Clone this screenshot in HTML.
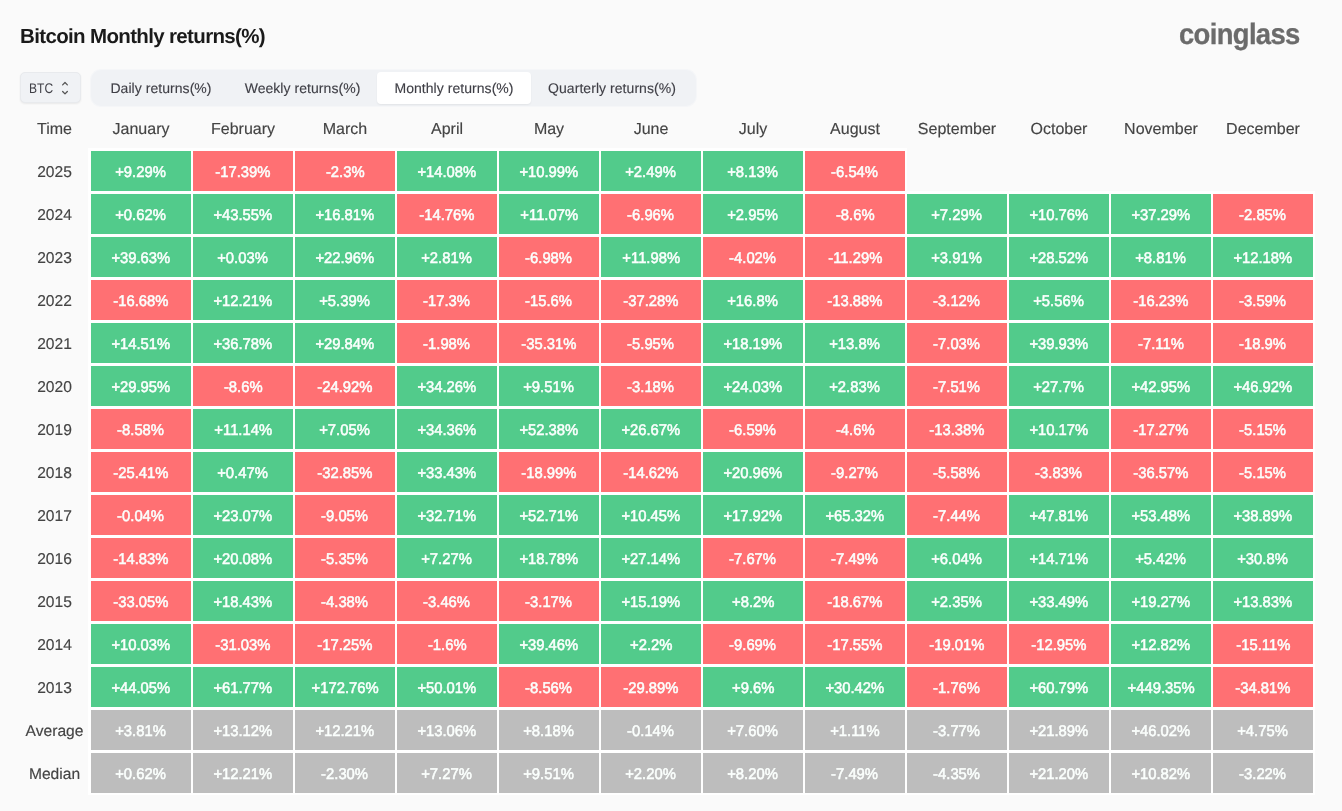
<!DOCTYPE html>
<html lang="en">
<head>
<meta charset="utf-8">
<title>Bitcoin Monthly returns(%)</title>
<style>
*{box-sizing:border-box;margin:0;padding:0}
html,body{width:1342px;height:811px;overflow:hidden;background:#fafafa}
body{position:relative;font-family:"Liberation Sans",sans-serif;color:#444444;text-rendering:geometricPrecision}
.title{position:absolute;margin:0;left:20px;top:25px;font-size:20.5px;line-height:24px;font-weight:bold;color:#1a1a1a;letter-spacing:-0.65px;white-space:nowrap}
.logo{position:absolute;left:1179px;top:17px;font-size:29.5px;line-height:36px;font-weight:bold;color:#6b6b6b;-webkit-text-stroke:0.3px #6b6b6b;white-space:nowrap;transform-origin:0 50%;transform:scaleX(0.93);letter-spacing:-0.7px}
.sel{position:absolute;left:20px;top:72px;width:61px;height:31px;border-radius:5px;background:#f0f2f5;border:1px solid #e8eaed;box-shadow:0 1px 2px rgba(0,0,0,.07)}
.sel span{position:absolute;left:8px;top:0;line-height:30px;font-size:14px;color:#3f3f46;transform-origin:0 50%;transform:scaleX(0.86)}
.sel svg{position:absolute;left:37px;top:6px}
.tabs{position:absolute;left:91px;top:70px;width:605px;height:36px;border-radius:10px;background:#f0f2f5;box-shadow:0 0 0 1px #f5f6f8}
.tab{position:absolute;top:2px;height:32px;line-height:33px;font-size:14px;text-align:center;color:#3f3f46;-webkit-text-stroke:0.12px #3f3f46;border-radius:4px;letter-spacing:0.05px;white-space:nowrap}
.tab.on{background:#fff;box-shadow:0 1px 2px rgba(0,0,0,.06)}
.h{position:absolute;top:118px;height:24px;line-height:24px;font-size:16px;letter-spacing:0px;text-align:center;color:#444444;-webkit-text-stroke:0.15px #444444;white-space:nowrap}
.y{position:absolute;left:4.5px;width:100px;height:40px;line-height:44px;font-size:15.6px;text-align:center;color:#444444;-webkit-text-stroke:0.15px #444444;white-space:nowrap}
.w{position:absolute;background:#fff}
.c{position:absolute;width:100px;height:40px;line-height:43px;text-align:center;color:#fbfffd;font-size:15.5px;font-weight:normal;-webkit-text-stroke:0.55px #fbfffd;white-space:nowrap}
.c span{display:inline-block;transform:translate(0px,0px) scaleX(0.955)}
.g{background:#52cb8b}
.r{background:#ff7073}
.n{background:#bdbdbd}
</style>
</head>
<body>
<h1 class="title">Bitcoin Monthly returns(%)</h1>
<div class="logo">coinglass</div>
<div class="sel" role="button" aria-haspopup="listbox"><span>BTC</span><svg width="16" height="18" viewBox="0 0 16 18" fill="none" stroke="#555" stroke-width="1.3" stroke-linecap="round" stroke-linejoin="round"><path d="M4.65 5.85 L7 3.45 L9.35 5.85"/><path d="M4.65 12.45 L7 14.85 L9.35 12.45"/></svg></div>
<div class="tabs" role="tablist">
<div class="tab" role="tab" aria-selected="false" style="left:3px;width:134px">Daily returns(%)</div>
<div class="tab" role="tab" aria-selected="false" style="left:137px;width:149px">Weekly returns(%)</div>
<div class="tab on" role="tab" aria-selected="true" style="left:286px;width:154px">Monthly returns(%)</div>
<div class="tab" role="tab" aria-selected="false" style="left:440px;width:162px">Quarterly returns(%)</div>
</div>
<div role="table" aria-label="Bitcoin Monthly returns(%)">
<div class="w" style="left:88px;top:148px;width:819px;height:46px"></div>
<div class="w" style="left:88px;top:191px;width:1227px;height:604px"></div>
<div role="row">
<div class="h" role="columnheader" style="left:4.5px;width:100px">Time</div>
<div class="h" role="columnheader" style="left:81px;width:120px">January</div>
<div class="h" role="columnheader" style="left:183px;width:120px">February</div>
<div class="h" role="columnheader" style="left:285px;width:120px">March</div>
<div class="h" role="columnheader" style="left:387px;width:120px">April</div>
<div class="h" role="columnheader" style="left:489px;width:120px">May</div>
<div class="h" role="columnheader" style="left:591px;width:120px">June</div>
<div class="h" role="columnheader" style="left:693px;width:120px">July</div>
<div class="h" role="columnheader" style="left:795px;width:120px">August</div>
<div class="h" role="columnheader" style="left:897px;width:120px">September</div>
<div class="h" role="columnheader" style="left:999px;width:120px">October</div>
<div class="h" role="columnheader" style="left:1101px;width:120px">November</div>
<div class="h" role="columnheader" style="left:1203px;width:120px">December</div>
</div>
<div role="row">
<div class="y" role="rowheader" style="top:151px">2025</div>
<div class="c g" role="cell" style="left:91px;top:151px"><span>+9.29%</span></div>
<div class="c r" role="cell" style="left:193px;top:151px"><span>-17.39%</span></div>
<div class="c r" role="cell" style="left:295px;top:151px"><span>-2.3%</span></div>
<div class="c g" role="cell" style="left:397px;top:151px"><span>+14.08%</span></div>
<div class="c g" role="cell" style="left:499px;top:151px"><span>+10.99%</span></div>
<div class="c g" role="cell" style="left:601px;top:151px"><span>+2.49%</span></div>
<div class="c g" role="cell" style="left:703px;top:151px"><span>+8.13%</span></div>
<div class="c r" role="cell" style="left:805px;top:151px"><span>-6.54%</span></div>
</div>
<div role="row">
<div class="y" role="rowheader" style="top:194px">2024</div>
<div class="c g" role="cell" style="left:91px;top:194px"><span>+0.62%</span></div>
<div class="c g" role="cell" style="left:193px;top:194px"><span>+43.55%</span></div>
<div class="c g" role="cell" style="left:295px;top:194px"><span>+16.81%</span></div>
<div class="c r" role="cell" style="left:397px;top:194px"><span>-14.76%</span></div>
<div class="c g" role="cell" style="left:499px;top:194px"><span>+11.07%</span></div>
<div class="c r" role="cell" style="left:601px;top:194px"><span>-6.96%</span></div>
<div class="c g" role="cell" style="left:703px;top:194px"><span>+2.95%</span></div>
<div class="c r" role="cell" style="left:805px;top:194px"><span>-8.6%</span></div>
<div class="c g" role="cell" style="left:907px;top:194px"><span>+7.29%</span></div>
<div class="c g" role="cell" style="left:1009px;top:194px"><span>+10.76%</span></div>
<div class="c g" role="cell" style="left:1111px;top:194px"><span>+37.29%</span></div>
<div class="c r" role="cell" style="left:1213px;top:194px"><span>-2.85%</span></div>
</div>
<div role="row">
<div class="y" role="rowheader" style="top:237px">2023</div>
<div class="c g" role="cell" style="left:91px;top:237px"><span>+39.63%</span></div>
<div class="c g" role="cell" style="left:193px;top:237px"><span>+0.03%</span></div>
<div class="c g" role="cell" style="left:295px;top:237px"><span>+22.96%</span></div>
<div class="c g" role="cell" style="left:397px;top:237px"><span>+2.81%</span></div>
<div class="c r" role="cell" style="left:499px;top:237px"><span>-6.98%</span></div>
<div class="c g" role="cell" style="left:601px;top:237px"><span>+11.98%</span></div>
<div class="c r" role="cell" style="left:703px;top:237px"><span>-4.02%</span></div>
<div class="c r" role="cell" style="left:805px;top:237px"><span>-11.29%</span></div>
<div class="c g" role="cell" style="left:907px;top:237px"><span>+3.91%</span></div>
<div class="c g" role="cell" style="left:1009px;top:237px"><span>+28.52%</span></div>
<div class="c g" role="cell" style="left:1111px;top:237px"><span>+8.81%</span></div>
<div class="c g" role="cell" style="left:1213px;top:237px"><span>+12.18%</span></div>
</div>
<div role="row">
<div class="y" role="rowheader" style="top:280px">2022</div>
<div class="c r" role="cell" style="left:91px;top:280px"><span>-16.68%</span></div>
<div class="c g" role="cell" style="left:193px;top:280px"><span>+12.21%</span></div>
<div class="c g" role="cell" style="left:295px;top:280px"><span>+5.39%</span></div>
<div class="c r" role="cell" style="left:397px;top:280px"><span>-17.3%</span></div>
<div class="c r" role="cell" style="left:499px;top:280px"><span>-15.6%</span></div>
<div class="c r" role="cell" style="left:601px;top:280px"><span>-37.28%</span></div>
<div class="c g" role="cell" style="left:703px;top:280px"><span>+16.8%</span></div>
<div class="c r" role="cell" style="left:805px;top:280px"><span>-13.88%</span></div>
<div class="c r" role="cell" style="left:907px;top:280px"><span>-3.12%</span></div>
<div class="c g" role="cell" style="left:1009px;top:280px"><span>+5.56%</span></div>
<div class="c r" role="cell" style="left:1111px;top:280px"><span>-16.23%</span></div>
<div class="c r" role="cell" style="left:1213px;top:280px"><span>-3.59%</span></div>
</div>
<div role="row">
<div class="y" role="rowheader" style="top:323px">2021</div>
<div class="c g" role="cell" style="left:91px;top:323px"><span>+14.51%</span></div>
<div class="c g" role="cell" style="left:193px;top:323px"><span>+36.78%</span></div>
<div class="c g" role="cell" style="left:295px;top:323px"><span>+29.84%</span></div>
<div class="c r" role="cell" style="left:397px;top:323px"><span>-1.98%</span></div>
<div class="c r" role="cell" style="left:499px;top:323px"><span>-35.31%</span></div>
<div class="c r" role="cell" style="left:601px;top:323px"><span>-5.95%</span></div>
<div class="c g" role="cell" style="left:703px;top:323px"><span>+18.19%</span></div>
<div class="c g" role="cell" style="left:805px;top:323px"><span>+13.8%</span></div>
<div class="c r" role="cell" style="left:907px;top:323px"><span>-7.03%</span></div>
<div class="c g" role="cell" style="left:1009px;top:323px"><span>+39.93%</span></div>
<div class="c r" role="cell" style="left:1111px;top:323px"><span>-7.11%</span></div>
<div class="c r" role="cell" style="left:1213px;top:323px"><span>-18.9%</span></div>
</div>
<div role="row">
<div class="y" role="rowheader" style="top:366px">2020</div>
<div class="c g" role="cell" style="left:91px;top:366px"><span>+29.95%</span></div>
<div class="c r" role="cell" style="left:193px;top:366px"><span>-8.6%</span></div>
<div class="c r" role="cell" style="left:295px;top:366px"><span>-24.92%</span></div>
<div class="c g" role="cell" style="left:397px;top:366px"><span>+34.26%</span></div>
<div class="c g" role="cell" style="left:499px;top:366px"><span>+9.51%</span></div>
<div class="c r" role="cell" style="left:601px;top:366px"><span>-3.18%</span></div>
<div class="c g" role="cell" style="left:703px;top:366px"><span>+24.03%</span></div>
<div class="c g" role="cell" style="left:805px;top:366px"><span>+2.83%</span></div>
<div class="c r" role="cell" style="left:907px;top:366px"><span>-7.51%</span></div>
<div class="c g" role="cell" style="left:1009px;top:366px"><span>+27.7%</span></div>
<div class="c g" role="cell" style="left:1111px;top:366px"><span>+42.95%</span></div>
<div class="c g" role="cell" style="left:1213px;top:366px"><span>+46.92%</span></div>
</div>
<div role="row">
<div class="y" role="rowheader" style="top:409px">2019</div>
<div class="c r" role="cell" style="left:91px;top:409px"><span>-8.58%</span></div>
<div class="c g" role="cell" style="left:193px;top:409px"><span>+11.14%</span></div>
<div class="c g" role="cell" style="left:295px;top:409px"><span>+7.05%</span></div>
<div class="c g" role="cell" style="left:397px;top:409px"><span>+34.36%</span></div>
<div class="c g" role="cell" style="left:499px;top:409px"><span>+52.38%</span></div>
<div class="c g" role="cell" style="left:601px;top:409px"><span>+26.67%</span></div>
<div class="c r" role="cell" style="left:703px;top:409px"><span>-6.59%</span></div>
<div class="c r" role="cell" style="left:805px;top:409px"><span>-4.6%</span></div>
<div class="c r" role="cell" style="left:907px;top:409px"><span>-13.38%</span></div>
<div class="c g" role="cell" style="left:1009px;top:409px"><span>+10.17%</span></div>
<div class="c r" role="cell" style="left:1111px;top:409px"><span>-17.27%</span></div>
<div class="c r" role="cell" style="left:1213px;top:409px"><span>-5.15%</span></div>
</div>
<div role="row">
<div class="y" role="rowheader" style="top:452px">2018</div>
<div class="c r" role="cell" style="left:91px;top:452px"><span>-25.41%</span></div>
<div class="c g" role="cell" style="left:193px;top:452px"><span>+0.47%</span></div>
<div class="c r" role="cell" style="left:295px;top:452px"><span>-32.85%</span></div>
<div class="c g" role="cell" style="left:397px;top:452px"><span>+33.43%</span></div>
<div class="c r" role="cell" style="left:499px;top:452px"><span>-18.99%</span></div>
<div class="c r" role="cell" style="left:601px;top:452px"><span>-14.62%</span></div>
<div class="c g" role="cell" style="left:703px;top:452px"><span>+20.96%</span></div>
<div class="c r" role="cell" style="left:805px;top:452px"><span>-9.27%</span></div>
<div class="c r" role="cell" style="left:907px;top:452px"><span>-5.58%</span></div>
<div class="c r" role="cell" style="left:1009px;top:452px"><span>-3.83%</span></div>
<div class="c r" role="cell" style="left:1111px;top:452px"><span>-36.57%</span></div>
<div class="c r" role="cell" style="left:1213px;top:452px"><span>-5.15%</span></div>
</div>
<div role="row">
<div class="y" role="rowheader" style="top:495px">2017</div>
<div class="c r" role="cell" style="left:91px;top:495px"><span>-0.04%</span></div>
<div class="c g" role="cell" style="left:193px;top:495px"><span>+23.07%</span></div>
<div class="c r" role="cell" style="left:295px;top:495px"><span>-9.05%</span></div>
<div class="c g" role="cell" style="left:397px;top:495px"><span>+32.71%</span></div>
<div class="c g" role="cell" style="left:499px;top:495px"><span>+52.71%</span></div>
<div class="c g" role="cell" style="left:601px;top:495px"><span>+10.45%</span></div>
<div class="c g" role="cell" style="left:703px;top:495px"><span>+17.92%</span></div>
<div class="c g" role="cell" style="left:805px;top:495px"><span>+65.32%</span></div>
<div class="c r" role="cell" style="left:907px;top:495px"><span>-7.44%</span></div>
<div class="c g" role="cell" style="left:1009px;top:495px"><span>+47.81%</span></div>
<div class="c g" role="cell" style="left:1111px;top:495px"><span>+53.48%</span></div>
<div class="c g" role="cell" style="left:1213px;top:495px"><span>+38.89%</span></div>
</div>
<div role="row">
<div class="y" role="rowheader" style="top:538px">2016</div>
<div class="c r" role="cell" style="left:91px;top:538px"><span>-14.83%</span></div>
<div class="c g" role="cell" style="left:193px;top:538px"><span>+20.08%</span></div>
<div class="c r" role="cell" style="left:295px;top:538px"><span>-5.35%</span></div>
<div class="c g" role="cell" style="left:397px;top:538px"><span>+7.27%</span></div>
<div class="c g" role="cell" style="left:499px;top:538px"><span>+18.78%</span></div>
<div class="c g" role="cell" style="left:601px;top:538px"><span>+27.14%</span></div>
<div class="c r" role="cell" style="left:703px;top:538px"><span>-7.67%</span></div>
<div class="c r" role="cell" style="left:805px;top:538px"><span>-7.49%</span></div>
<div class="c g" role="cell" style="left:907px;top:538px"><span>+6.04%</span></div>
<div class="c g" role="cell" style="left:1009px;top:538px"><span>+14.71%</span></div>
<div class="c g" role="cell" style="left:1111px;top:538px"><span>+5.42%</span></div>
<div class="c g" role="cell" style="left:1213px;top:538px"><span>+30.8%</span></div>
</div>
<div role="row">
<div class="y" role="rowheader" style="top:581px">2015</div>
<div class="c r" role="cell" style="left:91px;top:581px"><span>-33.05%</span></div>
<div class="c g" role="cell" style="left:193px;top:581px"><span>+18.43%</span></div>
<div class="c r" role="cell" style="left:295px;top:581px"><span>-4.38%</span></div>
<div class="c r" role="cell" style="left:397px;top:581px"><span>-3.46%</span></div>
<div class="c r" role="cell" style="left:499px;top:581px"><span>-3.17%</span></div>
<div class="c g" role="cell" style="left:601px;top:581px"><span>+15.19%</span></div>
<div class="c g" role="cell" style="left:703px;top:581px"><span>+8.2%</span></div>
<div class="c r" role="cell" style="left:805px;top:581px"><span>-18.67%</span></div>
<div class="c g" role="cell" style="left:907px;top:581px"><span>+2.35%</span></div>
<div class="c g" role="cell" style="left:1009px;top:581px"><span>+33.49%</span></div>
<div class="c g" role="cell" style="left:1111px;top:581px"><span>+19.27%</span></div>
<div class="c g" role="cell" style="left:1213px;top:581px"><span>+13.83%</span></div>
</div>
<div role="row">
<div class="y" role="rowheader" style="top:624px">2014</div>
<div class="c g" role="cell" style="left:91px;top:624px"><span>+10.03%</span></div>
<div class="c r" role="cell" style="left:193px;top:624px"><span>-31.03%</span></div>
<div class="c r" role="cell" style="left:295px;top:624px"><span>-17.25%</span></div>
<div class="c r" role="cell" style="left:397px;top:624px"><span>-1.6%</span></div>
<div class="c g" role="cell" style="left:499px;top:624px"><span>+39.46%</span></div>
<div class="c g" role="cell" style="left:601px;top:624px"><span>+2.2%</span></div>
<div class="c r" role="cell" style="left:703px;top:624px"><span>-9.69%</span></div>
<div class="c r" role="cell" style="left:805px;top:624px"><span>-17.55%</span></div>
<div class="c r" role="cell" style="left:907px;top:624px"><span>-19.01%</span></div>
<div class="c r" role="cell" style="left:1009px;top:624px"><span>-12.95%</span></div>
<div class="c g" role="cell" style="left:1111px;top:624px"><span>+12.82%</span></div>
<div class="c r" role="cell" style="left:1213px;top:624px"><span>-15.11%</span></div>
</div>
<div role="row">
<div class="y" role="rowheader" style="top:667px">2013</div>
<div class="c g" role="cell" style="left:91px;top:667px"><span>+44.05%</span></div>
<div class="c g" role="cell" style="left:193px;top:667px"><span>+61.77%</span></div>
<div class="c g" role="cell" style="left:295px;top:667px"><span>+172.76%</span></div>
<div class="c g" role="cell" style="left:397px;top:667px"><span>+50.01%</span></div>
<div class="c r" role="cell" style="left:499px;top:667px"><span>-8.56%</span></div>
<div class="c r" role="cell" style="left:601px;top:667px"><span>-29.89%</span></div>
<div class="c g" role="cell" style="left:703px;top:667px"><span>+9.6%</span></div>
<div class="c g" role="cell" style="left:805px;top:667px"><span>+30.42%</span></div>
<div class="c r" role="cell" style="left:907px;top:667px"><span>-1.76%</span></div>
<div class="c g" role="cell" style="left:1009px;top:667px"><span>+60.79%</span></div>
<div class="c g" role="cell" style="left:1111px;top:667px"><span>+449.35%</span></div>
<div class="c r" role="cell" style="left:1213px;top:667px"><span>-34.81%</span></div>
</div>
<div role="row">
<div class="y" role="rowheader" style="top:710px">Average</div>
<div class="c n" role="cell" style="left:91px;top:710px"><span>+3.81%</span></div>
<div class="c n" role="cell" style="left:193px;top:710px"><span>+13.12%</span></div>
<div class="c n" role="cell" style="left:295px;top:710px"><span>+12.21%</span></div>
<div class="c n" role="cell" style="left:397px;top:710px"><span>+13.06%</span></div>
<div class="c n" role="cell" style="left:499px;top:710px"><span>+8.18%</span></div>
<div class="c n" role="cell" style="left:601px;top:710px"><span>-0.14%</span></div>
<div class="c n" role="cell" style="left:703px;top:710px"><span>+7.60%</span></div>
<div class="c n" role="cell" style="left:805px;top:710px"><span>+1.11%</span></div>
<div class="c n" role="cell" style="left:907px;top:710px"><span>-3.77%</span></div>
<div class="c n" role="cell" style="left:1009px;top:710px"><span>+21.89%</span></div>
<div class="c n" role="cell" style="left:1111px;top:710px"><span>+46.02%</span></div>
<div class="c n" role="cell" style="left:1213px;top:710px"><span>+4.75%</span></div>
</div>
<div role="row">
<div class="y" role="rowheader" style="top:753px">Median</div>
<div class="c n" role="cell" style="left:91px;top:753px"><span>+0.62%</span></div>
<div class="c n" role="cell" style="left:193px;top:753px"><span>+12.21%</span></div>
<div class="c n" role="cell" style="left:295px;top:753px"><span>-2.30%</span></div>
<div class="c n" role="cell" style="left:397px;top:753px"><span>+7.27%</span></div>
<div class="c n" role="cell" style="left:499px;top:753px"><span>+9.51%</span></div>
<div class="c n" role="cell" style="left:601px;top:753px"><span>+2.20%</span></div>
<div class="c n" role="cell" style="left:703px;top:753px"><span>+8.20%</span></div>
<div class="c n" role="cell" style="left:805px;top:753px"><span>-7.49%</span></div>
<div class="c n" role="cell" style="left:907px;top:753px"><span>-4.35%</span></div>
<div class="c n" role="cell" style="left:1009px;top:753px"><span>+21.20%</span></div>
<div class="c n" role="cell" style="left:1111px;top:753px"><span>+10.82%</span></div>
<div class="c n" role="cell" style="left:1213px;top:753px"><span>-3.22%</span></div>
</div>
</div>
</body>
</html>
